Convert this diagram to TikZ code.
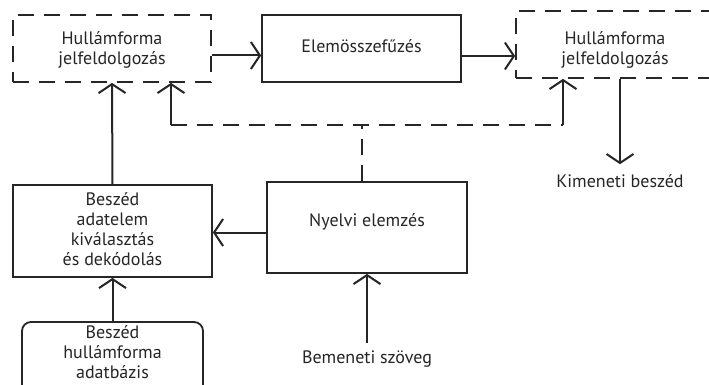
\documentclass[tikz,border=0pt]{standalone}
\usepackage{fontspec}
\setmainfont{PT Sans}
\usetikzlibrary{arrows.meta}
\tikzset{
  myarrow/.style={draw=black!85, line width=2pt, -{Straight Barb[length=9pt,width=27pt,line width=2pt]}},
}
\begin{document}
\begin{tikzpicture}[x=1pt,y=-1pt,
  every node/.style={font=\fontsize{18}{20}\selectfont, text=black!85, align=center},
  box/.style={draw=black!85, line width=1.8pt, inner sep=0pt},
  dbox/.style={box, dash pattern=on 16pt off 10pt},
  rbox/.style={box, rounded corners=9pt},
  fbline/.style={draw=black!85, line width=1.8pt, dash pattern=on 16pt off 10pt}]
\clip (0,0) rectangle (709,385);
\fill[white] (0,0) rectangle (709,385);
% nodes
\node[dbox, minimum width=198pt, minimum height=67pt] (wp1) at (112,48.5) {};
\node (wp1t) at (112,50) {Hullámforma\\jelfeldolgozás};
\node[box, minimum width=199pt, minimum height=67pt] (elem) at (361.5,48.5) {};
\node (elemt) at (361.5,46) {Elemösszefűzés};
\node[dbox, minimum width=210pt, minimum height=67pt] (wp2) at (621,44.5) {};
\node (wp2t) at (615,50) {Hullámforma\\jelfeldolgozás};
\node[inner sep=2pt] (kim) at (620,181) {Kimeneti beszéd};
\node[box, minimum width=199pt, minimum height=92pt] (bad) at (112.5,231) {};
\node (badt) at (112.5,229) {Beszéd\\adatelem\\kiválasztás\\és dekódolás};
\node[box, minimum width=200pt, minimum height=91pt] (nyelv) at (367,227.5) {};
\node (nyelvt) at (367,222) {Nyelvi elemzés};
\node[rbox, minimum width=181pt, minimum height=74pt] (db) at (112.5,359) {};
\node (dbt) at (112.5,352) {Beszéd\\hullámforma\\adatbázis};
\node[inner sep=2pt] (bem) at (367,359) {Bemeneti szöveg};
% feedback coordinates
\coordinate (fbM) at (362,125);
\coordinate (fbL) at (171,125);
\coordinate (fbR) at (563,125);
% connectors
\draw[myarrow] ([yshift=-7pt]wp1.east) -- ([yshift=-7pt]wp1.east -| elem.west);
\draw[myarrow] ([yshift=-7.5pt]elem.east) -- ([yshift=-7.5pt]elem.east -| wp2.west);
\draw[myarrow] (wp2.south -| kim) -- ([yshift=8pt]kim.north);
\draw[myarrow] (bad.north) -- (wp1.south);
\draw[myarrow] ([yshift=-5pt]nyelv.west) -- ([yshift=-5pt]nyelv.west -| bad.east);
\draw[myarrow] (db.north) -- (bad.south);
\draw[myarrow] ([yshift=6pt]bem.north) -- (nyelv.south);
\draw[fbline] (nyelv.north -| fbM) -- (fbM);
\draw[fbline] (fbL) -- (fbR);
\draw[myarrow] (fbL) -- (fbL |- wp1.south);
\draw[myarrow] (fbR) -- (fbR |- wp2.south);
\end{tikzpicture}
\end{document}
